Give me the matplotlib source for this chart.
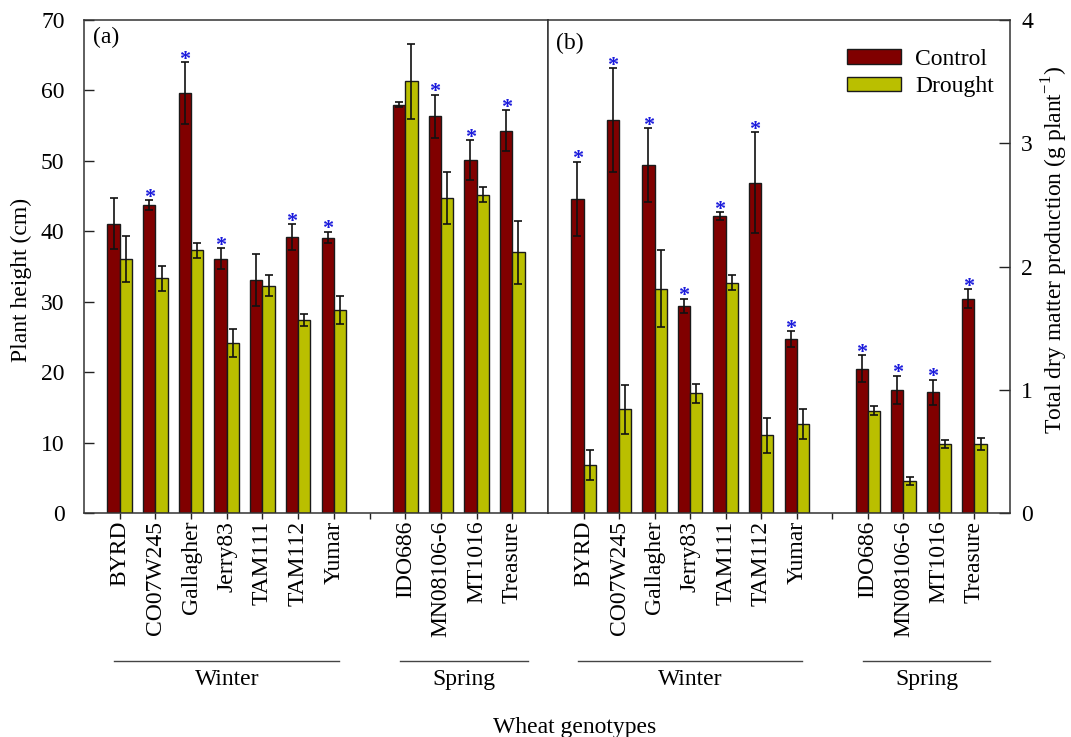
import matplotlib
matplotlib.use("Agg")
import matplotlib.pyplot as plt
import numpy as np
from matplotlib.patches import Patch

plt.rcParams['font.family'] = ['Liberation Serif', 'DejaVu Serif']
plt.rcParams['mathtext.fontset'] = 'custom'
plt.rcParams['mathtext.rm'] = 'Liberation Serif'

genotypes = ["BYRD", "CO07W245", "Gallagher", "Jerry83", "TAM111", "TAM112", "Yumar",
             "IDO686", "MN08106-6", "MT1016", "Treasure"]

# (a) plant height, cm
height_control = [41.1, 43.7, 59.6, 36.1, 33.1, 39.2, 39.1, 58.0, 56.3, 50.1, 54.3]
height_control_err = [3.6, 0.7, 4.4, 1.5, 3.7, 1.8, 0.8, 0.3, 3.1, 2.8, 2.9]
height_drought = [36.1, 33.3, 37.3, 24.1, 32.3, 27.4, 28.8, 61.3, 44.7, 45.2, 37.0]
height_drought_err = [3.3, 1.8, 1.1, 2.0, 1.5, 0.9, 2.0, 5.3, 3.7, 1.1, 4.5]
height_sig = [False, True, True, True, False, True, True, False, True, True, True]

# (b) total dry matter production, g plant-1
dm_control = [2.55, 3.19, 2.82, 1.68, 2.41, 2.68, 1.41, 1.17, 1.00, 0.98, 1.74]
dm_control_err = [0.30, 0.42, 0.30, 0.06, 0.03, 0.41, 0.065, 0.11, 0.115, 0.10, 0.075]
dm_drought = [0.39, 0.84, 1.82, 0.97, 1.87, 0.63, 0.72, 0.83, 0.26, 0.56, 0.56]
dm_drought_err = [0.125, 0.20, 0.31, 0.08, 0.057, 0.14, 0.12, 0.038, 0.033, 0.032, 0.048]
dm_sig = [True] * 11

# winter genotypes occupy slots 0-6, slot 7 is a gap, spring genotypes 8-11
positions = np.array([0, 1, 2, 3, 4, 5, 6, 8, 9, 10, 11], dtype=float)

c_control = "#800000"
c_drought = "#BABF00"
edge = "#1a1a1a"
bw = 0.345
FS = 17

fig = plt.figure(figsize=(10.71, 7.37), dpi=100)
W, H = 1071, 737
ax1 = fig.add_axes([84 / W, (H - 513) / H, 464 / W, 493 / H])
ax2 = fig.add_axes([548 / W, (H - 513) / H, 462 / W, 493 / H])


def draw_panel(ax, ctrl, ctrl_err, dr, dr_err, sig):
    ax.bar(positions - bw / 2, ctrl, bw, color=c_control, edgecolor=edge, linewidth=1.0, zorder=2)
    ax.bar(positions + bw / 2, dr, bw, color=c_drought, edgecolor=edge, linewidth=1.0, zorder=2)
    ax.errorbar(positions - bw / 2, ctrl, yerr=ctrl_err, fmt='none', ecolor='#111111',
                elinewidth=1.2, capsize=3.2, capthick=1.2, zorder=3)
    ax.errorbar(positions + bw / 2, dr, yerr=dr_err, fmt='none', ecolor='#111111',
                elinewidth=1.2, capsize=3.2, capthick=1.2, zorder=3)
    for x, v, e, s in zip(positions, ctrl, ctrl_err, sig):
        if s:
            ax.annotate("*", xy=(x - bw / 2, v + e), xytext=(0, -1.8), textcoords='offset points',
                        ha='center', va='baseline', color='#1a1adc', fontsize=16,
                        fontweight='bold', zorder=4)
    ax.set_xlim(-1, 12)
    ticks = [0, 1, 2, 3, 4, 5, 6, 7, 8, 9, 10, 11]
    labels = genotypes[:7] + [""] + genotypes[7:]
    ax.set_xticks(ticks)
    ax.set_xticklabels(labels, rotation=90, fontsize=FS)
    ax.tick_params(axis='x', direction='out', length=4.5, width=1.0, pad=1, colors='#222222',
                   labelcolor='black')
    for sp in ax.spines.values():
        sp.set_linewidth(1.1)
        sp.set_color('#333333')
    # genotype group brackets below the tick labels
    tr = ax.get_xaxis_transform()
    for x0, x1, name in [(-0.15, 6.15, "Winter"), (7.85, 11.45, "Spring")]:
        ax.plot([x0, x1], [-0.300, -0.300], transform=tr, color='#444444', lw=1.0, clip_on=False)
        ax.text((x0 + x1) / 2, -0.338, name, transform=tr, ha='center', va='center', fontsize=FS)


draw_panel(ax1, height_control, height_control_err, height_drought, height_drought_err, height_sig)
draw_panel(ax2, dm_control, dm_control_err, dm_drought, dm_drought_err, dm_sig)

ax1.set_ylim(0, 70)
ax1.set_yticks(range(0, 71, 10))
ax1.tick_params(axis='y', direction='in', length=7, width=1.0, pad=14, labelsize=FS,
                right=False, colors='#222222', labelcolor='black')

ax2.set_ylim(0, 4)
ax2.set_yticks(range(0, 5))
ax2.yaxis.tick_right()
ax2.tick_params(axis='y', direction='in', length=8, width=1.0, pad=8, labelsize=FS,
                left=False, colors='#222222', labelcolor='black')

fig.text(21 / W, 1 - 280 / H, "Plant height (cm)", rotation=90, ha='center', va='center',
         fontsize=FS)
fig.text(1055 / W, 1 - 250 / H, "Total dry matter production (g plant$^{-1}$)", rotation=90,
         ha='center', va='center', fontsize=FS)

ax1.text(0.019, 0.9655, "(a)", transform=ax1.transAxes, ha='left', va='center', fontsize=FS)
ax2.text(0.017, 0.953, "(b)", transform=ax2.transAxes, ha='left', va='center', fontsize=FS)

handles = [Patch(facecolor=c_control, edgecolor=edge, linewidth=1.0, label="Control"),
           Patch(facecolor=c_drought, edgecolor=edge, linewidth=1.0, label="Drought")]
ax2.legend(handles=handles, loc='upper left', bbox_to_anchor=(0.627, 0.960), frameon=False,
           fontsize=FS, handlelength=2.29, handleheight=0.58, handletextpad=0.6,
           labelspacing=0.26, borderaxespad=0.0)

fig.text(575 / W, 1 - 727 / H, "Wheat genotypes", ha='center', va='center', fontsize=FS)

fig.savefig("out.png", dpi=100)
